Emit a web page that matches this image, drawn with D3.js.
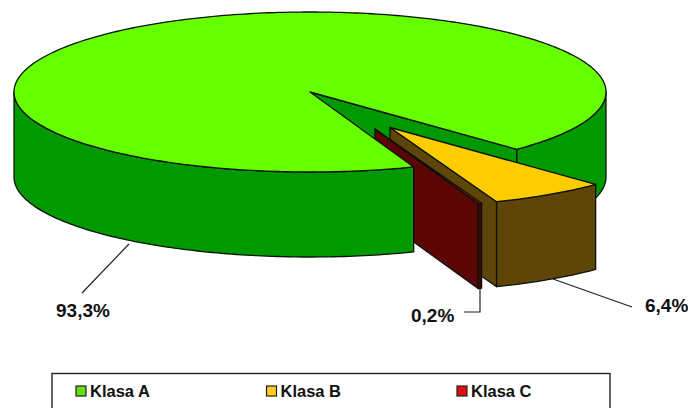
<!DOCTYPE html>
<html>
<head>
<meta charset="utf-8">
<script src="https://cdn.jsdelivr.net/npm/d3@7/dist/d3.min.js"></script>
<style>
html,body{margin:0;padding:0;background:#fff;overflow:hidden}
text{font-family:"Liberation Sans",Arial,sans-serif;font-weight:bold;fill:#111}
</style>
</head>
<body>
<script>
// Share of items per class
const categories = ["Klasa A", "Klasa B", "Klasa C"];
const shares = [93.3, 6.4, 0.2];
const shareLabels = ["93,3%", "6,4%", "0,2%"];

const width = 688, height = 408;
const centre = {x: 310, y: 92}, rx = 296, ry = 80, depth = 85;
const deg = Math.PI / 180;
const firstSliceStart = 159.5 * deg;

const palette = {
  "Klasa A": {top: "#66ff00", wall: "#009900", cut: "#009900", key: "#66dd11"},
  "Klasa B": {top: "#ffcc00", wall: "#5f4608", cut: "#5f4608", key: "#ffcc22"},
  "Klasa C": {top: "#8f1208", wall: "#4a0404", cut: "#5c0505", key: "#dd1111"}
};
// Pull-out of the two small slices, in pixels
const pullOut = {
  "Klasa A": {dx: 0, dy: 0, r: 1},
  "Klasa B": {dx: 80, dy: 35.5, r: 0.995},
  "Klasa C": {dx: 65, dy: 37, r: 0.995}
};

const svg = d3.select("body").append("svg")
  .attr("width", width).attr("height", height)
  .style("display", "block");

const px = d3.scaleLinear().domain([-1, 1]).range([centre.x - rx, centre.x + rx]);
const py = d3.scaleLinear().domain([-1, 1]).range([centre.y - ry, centre.y + ry]);

// Pie angles measured clockwise from twelve o'clock; the first slice starts low on the right
const pie = d3.pie().sort(null).startAngle(firstSliceStart).endAngle(firstSliceStart + 2 * Math.PI);
const slices = pie(shares).map((d, i) => ({...d, name: categories[i]}));

const line = d3.line();

function point(a, s, r, z) {
  const o = pullOut[s.name];
  return [px(r * Math.sin(a)) + o.dx, py(-r * Math.cos(a)) + o.dy + z];
}
function rim(s, from, to, z) {
  const r = pullOut[s.name].r;
  const n = Math.max(2, Math.ceil(Math.abs(to - from) / (1 * deg)));
  return d3.range(n + 1).map(i => point(from + (to - from) * i / n, s, r, z));
}
function draw(pts, fill) {
  svg.append("path").attr("d", line(pts) + "Z")
    .attr("fill", fill).attr("stroke", "#0b120b")
    .attr("stroke-width", 1.3).attr("stroke-linejoin", "round");
}
function topFace(s) {
  draw([point(0, s, 0, 0), ...rim(s, s.startAngle, s.endAngle, 0)], palette[s.name].top);
}
function outerWall(s, from, to) {
  draw([...rim(s, from, to, 0), ...rim(s, to, from, depth)], palette[s.name].wall);
}
function cutFace(s, a) {
  const r = pullOut[s.name].r;
  draw([point(0, s, 0, 0), point(a, s, r, 0), point(a, s, r, depth), point(0, s, 0, depth)],
       palette[s.name].cut);
}

const [sA, sB, sC] = slices;

// Far side first, so nearer faces paint over it
outerWall(sA, 360 * deg + 90 * deg, sA.endAngle);
cutFace(sA, sA.endAngle);

cutFace(sB, sB.endAngle);
outerWall(sB, sB.startAngle, sB.endAngle);
topFace(sB);

cutFace(sC, sC.endAngle);
outerWall(sC, sC.startAngle, sC.endAngle);
topFace(sC);

outerWall(sA, sA.startAngle, 270 * deg);
topFace(sA);

// Leader lines and value labels
const leaders = [
  [[129, 244], [82, 293]],
  [[553, 279], [632, 307]],
  [[480, 289], [480, 312], [464, 312]]
];
const labelAnchors = [[56, 317], [645, 312], [411, 322]];
leaders.forEach(pts => svg.append("path").attr("d", line(pts))
  .attr("fill", "none").attr("stroke", "#222").attr("stroke-width", 1.2));
shareLabels.forEach((t, i) => svg.append("text")
  .attr("x", labelAnchors[i][0]).attr("y", labelAnchors[i][1])
  .attr("font-size", 19).text(t));

// Legend box runs off the bottom edge
svg.append("rect").attr("x", 52).attr("y", 373.5).attr("width", 558).attr("height", 60)
  .attr("fill", "#fff").attr("stroke", "#222").attr("stroke-width", 1.4);
const legendX = d3.scalePoint().domain(categories).range([76, 457]);
categories.forEach(c => {
  const x = legendX(c);
  svg.append("rect").attr("x", x).attr("y", 386).attr("width", 10).attr("height", 10)
    .attr("fill", palette[c].key).attr("stroke", "#222").attr("stroke-width", 1.2);
  svg.append("text").attr("x", x + 14).attr("y", 397).attr("font-size", 16.5).text(c);
});
</script>
</body>
</html>
